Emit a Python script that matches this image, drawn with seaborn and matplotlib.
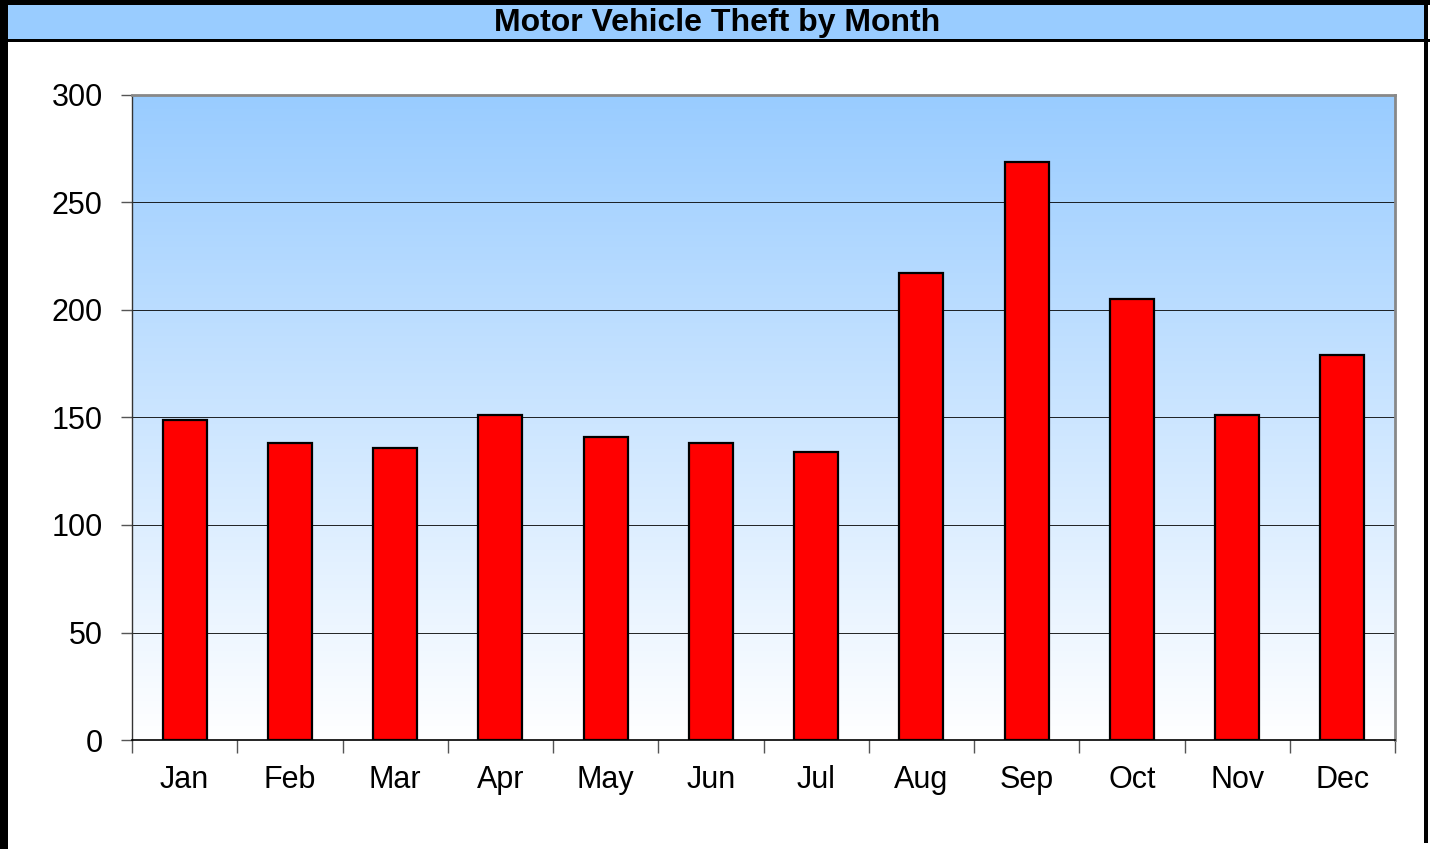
"""
Motor vehicle theft by month, bar chart in the old spreadsheet style
"""
import numpy as np
import pandas as pd
import matplotlib
matplotlib.use("Agg")
import matplotlib.pyplot as plt
from matplotlib.colors import LinearSegmentedColormap
from matplotlib.patches import Rectangle
import seaborn as sns

months = ["Jan", "Feb", "Mar", "Apr", "May", "Jun",
          "Jul", "Aug", "Sep", "Oct", "Nov", "Dec"]
thefts = [149, 138, 136, 151, 141, 138, 134, 217, 269, 205, 151, 179]
y_ticks = [0, 50, 100, 150, 200, 250, 300]
title = "Motor Vehicle Theft by Month"

sns.set_theme(style="white")
plt.rcParams["font.family"] = ["Liberation Sans", "DejaVu Sans"]
plt.rcParams["text.color"] = "black"
plt.rcParams["xtick.color"] = "black"
plt.rcParams["ytick.color"] = "black"

df = pd.DataFrame({"month": months, "thefts": thefts})

fig = plt.figure(figsize=(14.3, 8.49), dpi=100, facecolor="white")
ax = fig.add_axes([132 / 1430, 1 - 740 / 849, 1263 / 1430, 645 / 849])

# background gradient, light blue on top fading to white
cmap = LinearSegmentedColormap.from_list("bg", ["white", "#99CCFF"])
grad = np.linspace(0, 1, 256).reshape(-1, 1)
ax.imshow(grad, cmap=cmap, aspect="auto", origin="lower",
          extent=[0, 1, 0, 1], transform=ax.transAxes, zorder=0)

sns.barplot(data=df, x="month", y="thefts", color="#FF0000", saturation=1,
            edgecolor="black", linewidth=1.6, width=0.42, ax=ax, zorder=3)

ax.set_xlim(-0.5, len(months) - 0.5)
ax.set_ylim(0, 300)
ax.set_yticks(y_ticks)
ax.set_xlabel("")
ax.set_ylabel("")
for y in y_ticks[1:-1]:
    ax.axhline(y, color="black", linewidth=0.6, zorder=1)

ax.set_xticks(np.arange(-0.5, len(months)), minor=True)
ax.tick_params(axis="x", which="major", length=0, labelsize=22,
               labelcolor="black", pad=18)
ax.tick_params(axis="x", which="minor", length=9, width=1, color="#555555",
               direction="out", bottom=True)
ax.tick_params(axis="y", length=8, width=1, color="#555555", labelsize=22,
               labelcolor="black", direction="out", left=True, pad=13)

for side in ["top", "right"]:
    ax.spines[side].set_color("#888888")
    ax.spines[side].set_linewidth(2)
ax.spines["left"].set_color("#333333")
ax.spines["bottom"].set_color("black")
ax.spines["left"].set_linewidth(1)
ax.spines["bottom"].set_linewidth(1.2)

# title bar and outer border
W, H = 1430, 849
fig.patches.append(Rectangle((8 / W, 1 - 39 / H), 1416 / W, 34 / H,
                             transform=fig.transFigure, facecolor="#99CCFF",
                             edgecolor="none", zorder=0))
fig.patches.append(Rectangle((0, 1 - 42 / H), 1, 3 / H,
                             transform=fig.transFigure, facecolor="black",
                             edgecolor="none", zorder=1))
fig.patches.append(Rectangle((0, 1 - 5 / H), 1, 5 / H,
                             transform=fig.transFigure, facecolor="black",
                             edgecolor="none", zorder=1))
fig.patches.append(Rectangle((0, 0), 8 / W, 1,
                             transform=fig.transFigure, facecolor="black",
                             edgecolor="none", zorder=1))
fig.patches.append(Rectangle((1424 / W, 6 / H), 4 / W, 1,
                             transform=fig.transFigure, facecolor="black",
                             edgecolor="none", zorder=1))
fig.text(717 / W, 1 - 23.5 / H, title, ha="center", va="center",
         fontsize=23, fontweight="bold", color="black")

plt.savefig("out.png", dpi=100, facecolor="white")
